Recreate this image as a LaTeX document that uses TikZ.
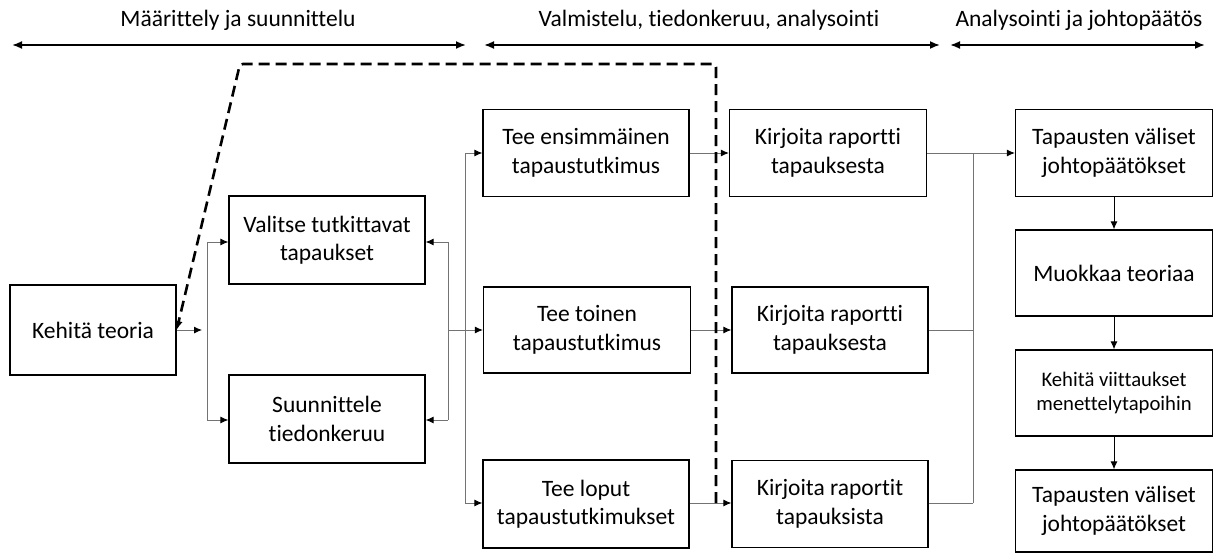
\documentclass[tikz,border=0pt]{standalone}
\usepackage{fontspec}
\setmainfont{Carlito}[Ligatures={NoCommon}]
\usetikzlibrary{arrows.meta}
\begin{document}
\begin{tikzpicture}[x=1pt,y=-1pt,
  box/.style={draw=black,line width=1.3pt,align=center,inner sep=0pt,
    font=\fontsize{23.5}{28.5}\selectfont},
  smallbox/.style={box,font=\fontsize{20.7}{24.8}\selectfont},
  wh/.style 2 args={minimum width=#1pt,minimum height=#2pt},
  wire/.style={draw=black!55,line width=0.9pt},
  conn/.style={wire,-{Latex[length=8pt,width=7pt,color=black]}},
  flow/.style={draw=black,line width=1pt,-{Latex[length=8pt,width=7pt]}},
  span/.style={draw=black,line width=1.8pt,{Latex[length=10pt,width=8pt]}-{Latex[length=10pt,width=8pt]}},
  phase/.style={anchor=base,font=\fontsize{23.5}{28.5}\selectfont},
  feedback/.style={draw=black,line width=2.6pt,dash pattern=on 11pt off 6pt,
    rounded corners=3pt,-{Latex[length=9pt,width=8pt]}}
]
\useasboundingbox (0,0) rectangle (1215,554);

% phase headings with their spans
\node[phase] (h1) at (238,27) {Määrittely ja suunnittelu};
\node[phase] (h2) at (709,27) {Valmistelu, tiedonkeruu, analysointi};
\node[phase] (h3) at (1079,27) {Analysointi ja johtopäätös};
\coordinate (s1a) at (12,45);  \coordinate (s1b) at (466,45);
\coordinate (s2a) at (484,45); \coordinate (s2b) at (940,45);
\coordinate (s3a) at (950,45); \coordinate (s3b) at (1205,45);
\draw[span] (s1a) -- (s1b);
\draw[span] (s2a) -- (s2b);
\draw[span] (s3a) -- (s3b);

% process steps
\node[box,wh={166}{90}] (kt) at (93,330) {Kehitä teoria};
\node[box,wh={196}{88}] (vt) at (327,240) {Valitse tutkittavat\\tapaukset};
\node[box,wh={196}{88}] (st) at (327,419) {Suunnittele\\tiedonkeruu};
\node[box,wh={206}{87}] (t1) at (586,153) {Tee ensimmäinen\\tapaustutkimus};
\node[box,wh={207}{86}] (t2) at (587,330) {Tee toinen\\tapaustutkimus};
\node[box,wh={206}{88}] (t3) at (586,504) {Tee loput\\tapaustutkimukset};
\node[box,wh={197}{87}] (k1) at (828,153) {Kirjoita raportti\\tapauksesta};
\node[box,wh={196}{86}] (k2) at (830,330) {Kirjoita raportti\\tapauksesta};
\node[box,wh={196}{87}] (k3) at (830,504) {Kirjoita raportit\\tapauksista};
\node[box,wh={197}{87}] (r1) at (1114,153) {Tapausten väliset\\johtopäätökset};
\node[box,wh={197}{86}] (r2) at (1114,273) {Muokkaa teoriaa};
\node[smallbox,wh={197}{86}] (r3) at (1114,393) {Kehitä viittaukset\\menettelytapoihin};
\node[box,wh={197}{82}] (r4) at (1114,511) {Tapausten väliset\\johtopäätökset};

% junction points
\coordinate (ktend) at (202,330);
\coordinate (jLa) at (207,242); \coordinate (jLb) at (207,420);
\coordinate (jRa) at (448,242); \coordinate (jRb) at (448,420);
\coordinate (jRm) at (448,330);
\coordinate (jMa) at (465,153); \coordinate (jMb) at (465,503);
\coordinate (jKa) at (973,153); \coordinate (jKb) at (973,503);

% theory to design
\draw[conn] (kt.east) -- (ktend);
\draw[wire] (jLa) -- (jLb);
\draw[conn] (jLa) -- (jLa -| vt.west);
\draw[conn] (jLb) -- (jLb -| st.west);

% design feedback and case studies
\draw[wire] (jRa) -- (jRb);
\draw[conn] (jRa) -- (jRa -| vt.east);
\draw[conn] (jRb) -- (jRb -| st.east);
\draw[conn] (jRm) -- (t2.west);
\draw[wire] (jMa) -- (jMb);
\draw[conn] (jMa) -- (t1.west);
\draw[conn] (jMb) -- (jMb -| t3.west);

% case studies to reports
\draw[conn] (t1.east) -- (k1.west);
\draw[conn] (t2.east) -- (k2.west);
\draw[conn] (t3.east |- jMb) -- (jMb -| k3.west);

% reports to cross-case conclusions
\draw[wire] (jKa) -- (jKb);
\draw[wire] (k2.east) -- (k2.east -| jKa);
\draw[wire] (jKb -| k3.east) -- (jKb);
\draw[conn] (k1.east) -- (r1.west);

% conclusion chain
\draw[flow] (r1.south) -- (r2.north);
\draw[flow] (r2.south) -- (r3.north);
\draw[flow] (r3.south) -- (r4.north);

% dashed feedback loop back to theory
\coordinate (dstart) at (716,503);
\coordinate (dtr) at (716,64);
\coordinate (dtl) at (240,64);
\draw[feedback] (dstart) -- (dtr) -- (dtl) -- (kt.east);
\end{tikzpicture}
\end{document}
